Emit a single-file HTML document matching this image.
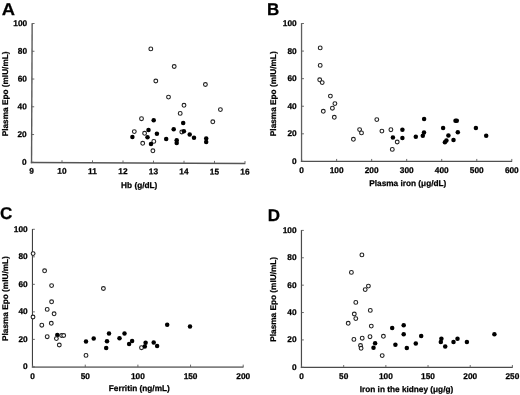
<!DOCTYPE html>
<html><head><meta charset="utf-8"><title>Plasma Epo figure</title>
<style>
html,body{margin:0;padding:0;background:#fff;}
body{width:520px;height:395px;overflow:hidden;}
svg{display:block;filter:grayscale(1) blur(0.3px);}
text{font-family:"Liberation Sans", sans-serif;font-weight:bold;fill:#000;stroke:#000;stroke-width:0.25px;text-rendering:geometricPrecision;}
.tk{font-size:8.3px;}
.tt{font-size:8.25px;}
.lt{font-size:17px;}
</style></head><body>
<svg width="520" height="395" viewBox="0 0 520 395">
<rect width="520" height="395" fill="#fff"/>
<g>
<text class="lt" transform="translate(1.7 14.5) scale(1.08 1)">A</text>
<g transform="rotate(0.25 31.5 162.5)">
<path d="M31.55 23.2V163.2" fill="none" stroke="#5a5a5a" stroke-width="1.4"/>
<path d="M30.85 162.5H245.3" fill="none" stroke="#555555" stroke-width="1.4"/>
<path d="M31.55 162.3h2.4M31.55 134.54h2.4M31.55 106.78h2.4M31.55 79.02h2.4M31.55 51.26h2.4M31.55 23.5h2.4M31.5 162.5v-2.4M62 162.5v-2.4M92.5 162.5v-2.4M123 162.5v-2.4M153.5 162.5v-2.4M184 162.5v-2.4M214.5 162.5v-2.4M245 162.5v-2.4" fill="none" stroke="#5a5a5a" stroke-width="0.9"/>
<text class="tk" x="26.6" y="164.8" text-anchor="end">0</text>
<text class="tk" x="26.6" y="137.04" text-anchor="end">20</text>
<text class="tk" x="26.6" y="109.28" text-anchor="end">40</text>
<text class="tk" x="26.6" y="81.52" text-anchor="end">60</text>
<text class="tk" x="26.6" y="53.76" text-anchor="end">80</text>
<text class="tk" x="26.6" y="26" text-anchor="end">100</text>
<text class="tk" x="31.5" y="173.7" text-anchor="middle">9</text>
<text class="tk" x="62" y="173.7" text-anchor="middle">10</text>
<text class="tk" x="92.5" y="173.7" text-anchor="middle">11</text>
<text class="tk" x="123" y="173.7" text-anchor="middle">12</text>
<text class="tk" x="153.5" y="173.7" text-anchor="middle">13</text>
<text class="tk" x="184" y="173.7" text-anchor="middle">14</text>
<text class="tk" x="214.5" y="173.7" text-anchor="middle">15</text>
<text class="tk" x="245" y="173.7" text-anchor="middle">16</text>
</g>
<text class="tt" x="139.2" y="187.7" text-anchor="middle">Hb (g/dL)</text>
<text class="tt" transform="translate(7.5 93.9) rotate(-90)" text-anchor="middle">Plasma Epo (mIU/mL)</text>
<circle cx="150.8" cy="48.9" r="1.9" fill="#fff" stroke="#222" stroke-width="1.1"/>
<circle cx="174.2" cy="66.5" r="1.9" fill="#fff" stroke="#222" stroke-width="1.1"/>
<circle cx="155.8" cy="81" r="1.9" fill="#fff" stroke="#222" stroke-width="1.1"/>
<circle cx="205.4" cy="84.5" r="1.9" fill="#fff" stroke="#222" stroke-width="1.1"/>
<circle cx="168.5" cy="97.1" r="1.9" fill="#fff" stroke="#222" stroke-width="1.1"/>
<circle cx="184" cy="105.3" r="1.9" fill="#fff" stroke="#222" stroke-width="1.1"/>
<circle cx="180.2" cy="113.4" r="1.9" fill="#fff" stroke="#222" stroke-width="1.1"/>
<circle cx="220.4" cy="109.6" r="1.9" fill="#fff" stroke="#222" stroke-width="1.1"/>
<circle cx="212.8" cy="121.8" r="1.9" fill="#fff" stroke="#222" stroke-width="1.1"/>
<circle cx="141.5" cy="118.7" r="1.9" fill="#fff" stroke="#222" stroke-width="1.1"/>
<circle cx="134.3" cy="131.6" r="1.9" fill="#fff" stroke="#222" stroke-width="1.1"/>
<circle cx="144.6" cy="133.3" r="1.9" fill="#fff" stroke="#222" stroke-width="1.1"/>
<circle cx="142.7" cy="143.3" r="1.9" fill="#fff" stroke="#222" stroke-width="1.1"/>
<circle cx="153.8" cy="141.4" r="1.9" fill="#fff" stroke="#222" stroke-width="1.1"/>
<circle cx="152.9" cy="150.8" r="1.9" fill="#fff" stroke="#222" stroke-width="1.1"/>
<circle cx="181.8" cy="132" r="1.9" fill="#fff" stroke="#222" stroke-width="1.1"/>
<circle cx="153.7" cy="120.3" r="2.25" fill="#000"/>
<circle cx="148.5" cy="129.9" r="2.25" fill="#000"/>
<circle cx="132.4" cy="137" r="2.25" fill="#000"/>
<circle cx="147.5" cy="137.3" r="2.25" fill="#000"/>
<circle cx="156.9" cy="133.7" r="2.25" fill="#000"/>
<circle cx="151" cy="143.9" r="2.25" fill="#000"/>
<circle cx="166.2" cy="138.9" r="2.25" fill="#000"/>
<circle cx="173.7" cy="129.3" r="2.25" fill="#000"/>
<circle cx="183.2" cy="123.1" r="2.25" fill="#000"/>
<circle cx="183.9" cy="131.3" r="2.25" fill="#000"/>
<circle cx="189.7" cy="134.6" r="2.25" fill="#000"/>
<circle cx="194" cy="137.8" r="2.25" fill="#000"/>
<circle cx="176.7" cy="140.2" r="2.25" fill="#000"/>
<circle cx="176.7" cy="143" r="2.25" fill="#000"/>
<circle cx="206.2" cy="138.5" r="2.25" fill="#000"/>
<circle cx="206.2" cy="142.1" r="2.25" fill="#000"/>
</g>
<g>
<text class="lt" x="267.1" y="14.6">B</text>
<path d="M301.55 23.2V162" fill="none" stroke="#5e5e5e" stroke-width="1.3"/>
<path d="M300.9 161.35H512.1" fill="none" stroke="#505050" stroke-width="1.3"/>
<path d="M301.55 161.4h2.4M301.55 133.82h2.4M301.55 106.24h2.4M301.55 78.66h2.4M301.55 51.08h2.4M301.55 23.5h2.4M301.6 161.35v-2.4M336.63 161.35v-2.4M371.67 161.35v-2.4M406.7 161.35v-2.4M441.73 161.35v-2.4M476.77 161.35v-2.4M511.8 161.35v-2.4" fill="none" stroke="#5a5a5a" stroke-width="0.9"/>
<text class="tk" x="296.7" y="163.9" text-anchor="end">0</text>
<text class="tk" x="296.7" y="136.32" text-anchor="end">20</text>
<text class="tk" x="296.7" y="108.74" text-anchor="end">40</text>
<text class="tk" x="296.7" y="81.16" text-anchor="end">60</text>
<text class="tk" x="296.7" y="53.58" text-anchor="end">80</text>
<text class="tk" x="296.7" y="26" text-anchor="end">100</text>
<text class="tk" x="301.6" y="172.8" text-anchor="middle">0</text>
<text class="tk" x="336.63" y="172.8" text-anchor="middle">100</text>
<text class="tk" x="371.67" y="172.8" text-anchor="middle">200</text>
<text class="tk" x="406.7" y="172.8" text-anchor="middle">300</text>
<text class="tk" x="441.73" y="172.8" text-anchor="middle">400</text>
<text class="tk" x="476.77" y="172.8" text-anchor="middle">500</text>
<text class="tk" x="511.8" y="172.8" text-anchor="middle">600</text>
<text class="tt" x="407.8" y="185.8" text-anchor="middle">Plasma iron (μg/dL)</text>
<text class="tt" transform="translate(275.7 93.75) rotate(-90)" text-anchor="middle">Plasma Epo (mIU/mL)</text>
<circle cx="320.2" cy="47.9" r="1.9" fill="#fff" stroke="#222" stroke-width="1.1"/>
<circle cx="320.2" cy="65.4" r="1.9" fill="#fff" stroke="#222" stroke-width="1.1"/>
<circle cx="319.7" cy="79.8" r="1.9" fill="#fff" stroke="#222" stroke-width="1.1"/>
<circle cx="322.2" cy="82.6" r="1.9" fill="#fff" stroke="#222" stroke-width="1.1"/>
<circle cx="330.4" cy="96.1" r="1.9" fill="#fff" stroke="#222" stroke-width="1.1"/>
<circle cx="334.9" cy="103.6" r="1.9" fill="#fff" stroke="#222" stroke-width="1.1"/>
<circle cx="332.4" cy="108.2" r="1.9" fill="#fff" stroke="#222" stroke-width="1.1"/>
<circle cx="323.3" cy="111.3" r="1.9" fill="#fff" stroke="#222" stroke-width="1.1"/>
<circle cx="334.3" cy="117.3" r="1.9" fill="#fff" stroke="#222" stroke-width="1.1"/>
<circle cx="359.6" cy="129.6" r="1.9" fill="#fff" stroke="#222" stroke-width="1.1"/>
<circle cx="361.5" cy="132.9" r="1.9" fill="#fff" stroke="#222" stroke-width="1.1"/>
<circle cx="353.4" cy="139.3" r="1.9" fill="#fff" stroke="#222" stroke-width="1.1"/>
<circle cx="376.8" cy="119.6" r="1.9" fill="#fff" stroke="#222" stroke-width="1.1"/>
<circle cx="381.9" cy="131.1" r="1.9" fill="#fff" stroke="#222" stroke-width="1.1"/>
<circle cx="390.9" cy="129.7" r="1.9" fill="#fff" stroke="#222" stroke-width="1.1"/>
<circle cx="397.2" cy="142" r="1.9" fill="#fff" stroke="#222" stroke-width="1.1"/>
<circle cx="392.3" cy="149.4" r="1.9" fill="#fff" stroke="#222" stroke-width="1.1"/>
<circle cx="402.4" cy="129.7" r="2.25" fill="#000"/>
<circle cx="392.9" cy="137.6" r="2.25" fill="#000"/>
<circle cx="402.4" cy="138.1" r="2.25" fill="#000"/>
<circle cx="415.8" cy="136.7" r="2.25" fill="#000"/>
<circle cx="424.1" cy="118.9" r="2.25" fill="#000"/>
<circle cx="424" cy="132.4" r="2.25" fill="#000"/>
<circle cx="422.8" cy="135.7" r="2.25" fill="#000"/>
<circle cx="443.1" cy="127.9" r="2.25" fill="#000"/>
<circle cx="455.5" cy="120.8" r="2.25" fill="#000"/>
<circle cx="456.8" cy="120.8" r="2.25" fill="#000"/>
<circle cx="457.8" cy="132.3" r="2.25" fill="#000"/>
<circle cx="448.4" cy="135.6" r="2.25" fill="#000"/>
<circle cx="453.5" cy="140" r="2.25" fill="#000"/>
<circle cx="446.4" cy="140.4" r="2.25" fill="#000"/>
<circle cx="444.9" cy="142.2" r="2.25" fill="#000"/>
<circle cx="475.9" cy="128" r="2.25" fill="#000"/>
<circle cx="486.2" cy="135.7" r="2.25" fill="#000"/>
</g>
<g>
<text class="lt" x="0.1" y="219">C</text>
<path d="M32.45 229V367.95" fill="none" stroke="#404040" stroke-width="1.1"/>
<path d="M31.9 367.05H243.5" fill="none" stroke="#808080" stroke-width="1.8"/>
<path d="M32.45 366.9h2.4M32.45 339.38h2.4M32.45 311.86h2.4M32.45 284.34h2.4M32.45 256.82h2.4M32.45 229.3h2.4M32.6 367.05v-2.4M85.25 367.05v-2.4M137.9 367.05v-2.4M190.55 367.05v-2.4M243.2 367.05v-2.4" fill="none" stroke="#5a5a5a" stroke-width="0.9"/>
<text class="tk" x="27.7" y="369.4" text-anchor="end">0</text>
<text class="tk" x="27.7" y="341.88" text-anchor="end">20</text>
<text class="tk" x="27.7" y="314.36" text-anchor="end">40</text>
<text class="tk" x="27.7" y="286.84" text-anchor="end">60</text>
<text class="tk" x="27.7" y="259.32" text-anchor="end">80</text>
<text class="tk" x="27.7" y="231.8" text-anchor="end">100</text>
<text class="tk" x="32.6" y="378.9" text-anchor="middle">0</text>
<text class="tk" x="85.25" y="378.9" text-anchor="middle">50</text>
<text class="tk" x="137.9" y="378.9" text-anchor="middle">100</text>
<text class="tk" x="190.55" y="378.9" text-anchor="middle">150</text>
<text class="tk" x="243.2" y="378.9" text-anchor="middle">200</text>
<text class="tt" x="139.3" y="391.4" text-anchor="middle">Ferritin (ng/mL)</text>
<text class="tt" transform="translate(8.1 298.6) rotate(-90)" text-anchor="middle">Plasma Epo (mIU/mL)</text>
<circle cx="33.1" cy="253.6" r="1.9" fill="#fff" stroke="#222" stroke-width="1.1"/>
<circle cx="44.6" cy="270.8" r="1.9" fill="#fff" stroke="#222" stroke-width="1.1"/>
<circle cx="51.6" cy="285.6" r="1.9" fill="#fff" stroke="#222" stroke-width="1.1"/>
<circle cx="51.6" cy="301.8" r="1.9" fill="#fff" stroke="#222" stroke-width="1.1"/>
<circle cx="47.2" cy="309.4" r="1.9" fill="#fff" stroke="#222" stroke-width="1.1"/>
<circle cx="54.1" cy="313.8" r="1.9" fill="#fff" stroke="#222" stroke-width="1.1"/>
<circle cx="33" cy="317" r="1.9" fill="#fff" stroke="#222" stroke-width="1.1"/>
<circle cx="41.8" cy="325.2" r="1.9" fill="#fff" stroke="#222" stroke-width="1.1"/>
<circle cx="51.3" cy="323.3" r="1.9" fill="#fff" stroke="#222" stroke-width="1.1"/>
<circle cx="47.2" cy="336.7" r="1.9" fill="#fff" stroke="#222" stroke-width="1.1"/>
<circle cx="61.6" cy="335.5" r="1.9" fill="#fff" stroke="#222" stroke-width="1.1"/>
<circle cx="63.7" cy="335.5" r="1.9" fill="#fff" stroke="#222" stroke-width="1.1"/>
<circle cx="59.3" cy="345" r="1.9" fill="#fff" stroke="#222" stroke-width="1.1"/>
<circle cx="86" cy="355.4" r="1.9" fill="#fff" stroke="#222" stroke-width="1.1"/>
<circle cx="103.4" cy="288.5" r="1.9" fill="#fff" stroke="#222" stroke-width="1.1"/>
<circle cx="141.5" cy="347.7" r="1.9" fill="#fff" stroke="#222" stroke-width="1.1"/>
<circle cx="57.3" cy="335.1" r="2.25" fill="#000"/>
<circle cx="86" cy="341.4" r="2.25" fill="#000"/>
<circle cx="93.7" cy="338.5" r="2.25" fill="#000"/>
<circle cx="109" cy="333.6" r="2.25" fill="#000"/>
<circle cx="107" cy="341.2" r="2.25" fill="#000"/>
<circle cx="106.2" cy="347.9" r="2.25" fill="#000"/>
<circle cx="119.5" cy="338.3" r="2.25" fill="#000"/>
<circle cx="124.5" cy="333.6" r="2.25" fill="#000"/>
<circle cx="132.1" cy="341" r="2.25" fill="#000"/>
<circle cx="129.1" cy="343.9" r="2.25" fill="#000"/>
<circle cx="145.6" cy="342.8" r="2.25" fill="#000"/>
<circle cx="144.8" cy="346.5" r="2.25" fill="#000"/>
<circle cx="153.7" cy="342.5" r="2.25" fill="#000"/>
<circle cx="157.1" cy="346" r="2.25" fill="#000"/>
<circle cx="167.2" cy="324.7" r="2.25" fill="#000"/>
<circle cx="190" cy="326.4" r="2.25" fill="#000"/>
<circle cx="56.4" cy="338.6" r="1.9" fill="#fff" stroke="#222" stroke-width="1.1"/>
</g>
<g>
<text class="lt" x="267.7" y="220.6">D</text>
<path d="M301.45 230.1V368.05" fill="none" stroke="#4a4a4a" stroke-width="1.2"/>
<path d="M300.85 367.45H512.7" fill="none" stroke="#4a4a4a" stroke-width="1.2"/>
<path d="M301.45 367.3h2.4M301.45 339.92h2.4M301.45 312.54h2.4M301.45 285.16h2.4M301.45 257.78h2.4M301.45 230.4h2.4M301.5 367.45v-2.4M343.68 367.45v-2.4M385.86 367.45v-2.4M428.04 367.45v-2.4M470.22 367.45v-2.4M512.4 367.45v-2.4" fill="none" stroke="#5a5a5a" stroke-width="0.9"/>
<text class="tk" x="296.6" y="369.8" text-anchor="end">0</text>
<text class="tk" x="296.6" y="342.42" text-anchor="end">20</text>
<text class="tk" x="296.6" y="315.04" text-anchor="end">40</text>
<text class="tk" x="296.6" y="287.66" text-anchor="end">60</text>
<text class="tk" x="296.6" y="260.28" text-anchor="end">80</text>
<text class="tk" x="296.6" y="232.9" text-anchor="end">100</text>
<text class="tk" x="301.5" y="379.3" text-anchor="middle">0</text>
<text class="tk" x="343.68" y="379.3" text-anchor="middle">50</text>
<text class="tk" x="385.86" y="379.3" text-anchor="middle">100</text>
<text class="tk" x="428.04" y="379.3" text-anchor="middle">150</text>
<text class="tk" x="470.22" y="379.3" text-anchor="middle">200</text>
<text class="tk" x="512.4" y="379.3" text-anchor="middle">250</text>
<text class="tt" x="406.5" y="392" text-anchor="middle">Iron in the kidney (μg/g)</text>
<text class="tt" transform="translate(276.4 299.35) rotate(-90)" text-anchor="middle">Plasma Epo (mIU/mL)</text>
<circle cx="361.9" cy="254.9" r="1.9" fill="#fff" stroke="#222" stroke-width="1.1"/>
<circle cx="351.4" cy="272.4" r="1.9" fill="#fff" stroke="#222" stroke-width="1.1"/>
<circle cx="368.4" cy="286.1" r="1.9" fill="#fff" stroke="#222" stroke-width="1.1"/>
<circle cx="365.2" cy="289.6" r="1.9" fill="#fff" stroke="#222" stroke-width="1.1"/>
<circle cx="355.8" cy="302.4" r="1.9" fill="#fff" stroke="#222" stroke-width="1.1"/>
<circle cx="370.3" cy="310.4" r="1.9" fill="#fff" stroke="#222" stroke-width="1.1"/>
<circle cx="354.3" cy="314" r="1.9" fill="#fff" stroke="#222" stroke-width="1.1"/>
<circle cx="355.8" cy="318.6" r="1.9" fill="#fff" stroke="#222" stroke-width="1.1"/>
<circle cx="348.2" cy="323.3" r="1.9" fill="#fff" stroke="#222" stroke-width="1.1"/>
<circle cx="371.3" cy="326.1" r="1.9" fill="#fff" stroke="#222" stroke-width="1.1"/>
<circle cx="353.9" cy="339.4" r="1.9" fill="#fff" stroke="#222" stroke-width="1.1"/>
<circle cx="362.2" cy="338.2" r="1.9" fill="#fff" stroke="#222" stroke-width="1.1"/>
<circle cx="370" cy="336.7" r="1.9" fill="#fff" stroke="#222" stroke-width="1.1"/>
<circle cx="383.4" cy="336.3" r="1.9" fill="#fff" stroke="#222" stroke-width="1.1"/>
<circle cx="360.5" cy="345.5" r="1.9" fill="#fff" stroke="#222" stroke-width="1.1"/>
<circle cx="361.1" cy="348.3" r="1.9" fill="#fff" stroke="#222" stroke-width="1.1"/>
<circle cx="382.2" cy="355.6" r="1.9" fill="#fff" stroke="#222" stroke-width="1.1"/>
<circle cx="392.2" cy="328" r="2.25" fill="#000"/>
<circle cx="375.1" cy="343.2" r="2.25" fill="#000"/>
<circle cx="373.5" cy="347.8" r="2.25" fill="#000"/>
<circle cx="395.4" cy="344.7" r="2.25" fill="#000"/>
<circle cx="403.7" cy="325.3" r="2.25" fill="#000"/>
<circle cx="403.7" cy="334.3" r="2.25" fill="#000"/>
<circle cx="406.8" cy="348.1" r="2.25" fill="#000"/>
<circle cx="415.8" cy="343.4" r="2.25" fill="#000"/>
<circle cx="421.2" cy="336" r="2.25" fill="#000"/>
<circle cx="441.4" cy="338.7" r="2.25" fill="#000"/>
<circle cx="440.8" cy="341.9" r="2.25" fill="#000"/>
<circle cx="445.2" cy="346.4" r="2.25" fill="#000"/>
<circle cx="453.5" cy="342" r="2.25" fill="#000"/>
<circle cx="457.5" cy="338.7" r="2.25" fill="#000"/>
<circle cx="466.9" cy="342" r="2.25" fill="#000"/>
<circle cx="494.4" cy="334.3" r="2.25" fill="#000"/>
</g>
</svg>
</body></html>
